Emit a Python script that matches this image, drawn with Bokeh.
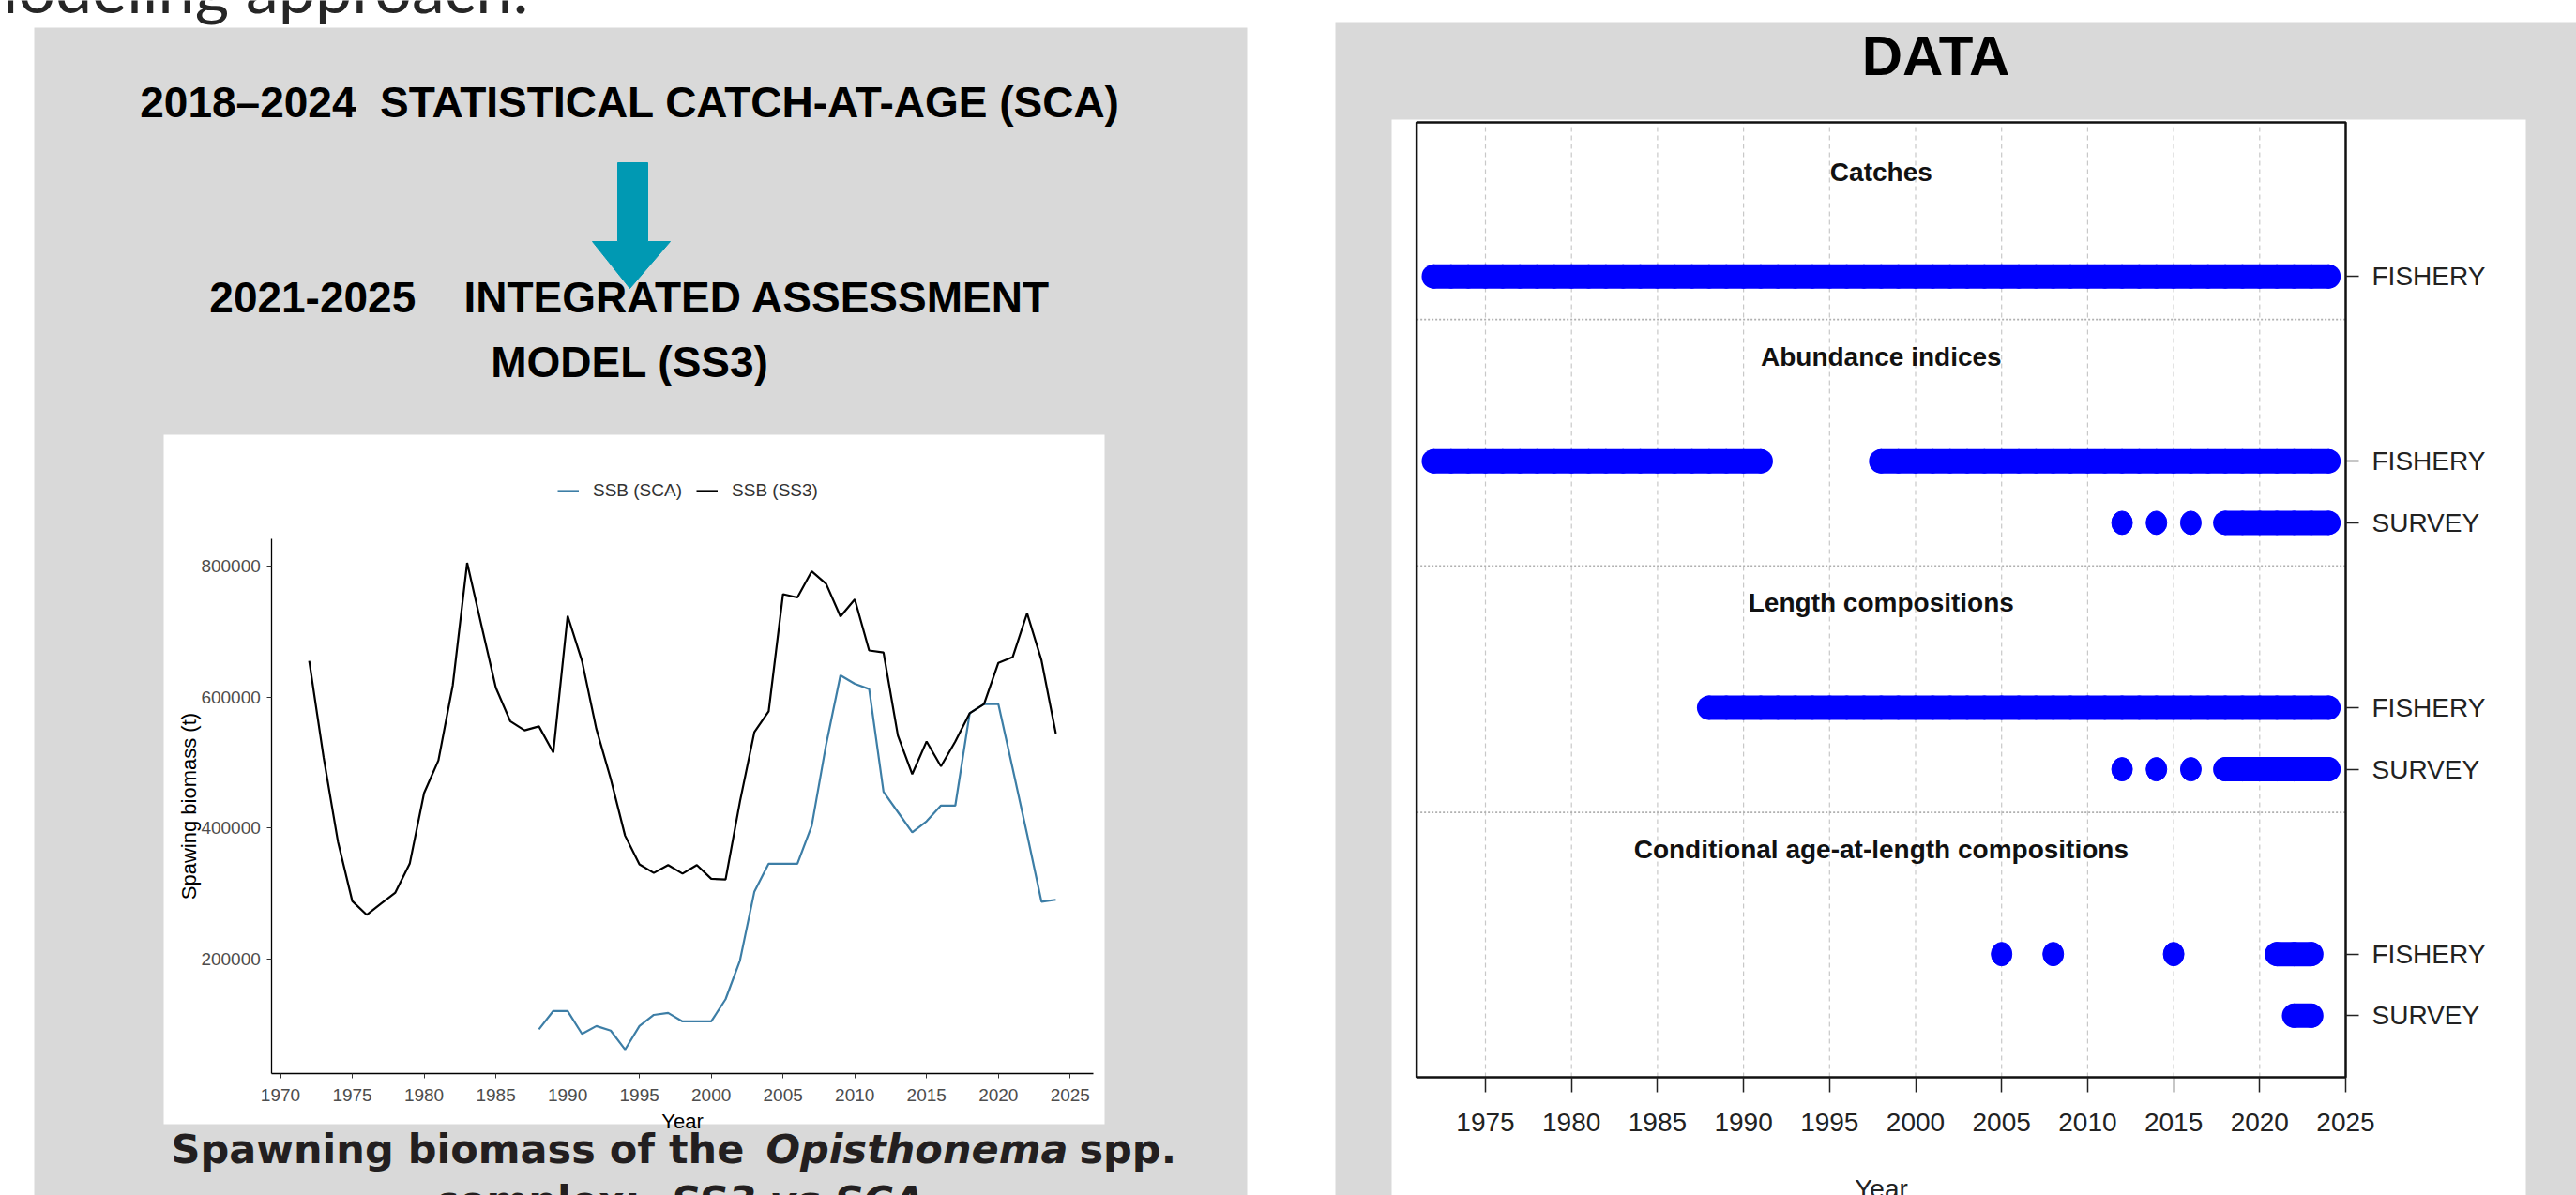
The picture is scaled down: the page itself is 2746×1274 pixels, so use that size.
from bokeh.plotting import figure
from bokeh.models import Range1d, LinearAxis, FixedTicker, Legend, LegendItem
from bokeh.core.properties import value
from bokeh.embed import file_html
from bokeh.resources import INLINE

# ------------------------------------------------------------------ data
# Spawning biomass (t)
ssb_ss3_years = list(range(1972, 2025))
ssb_ss3 = [655000, 508000, 379000, 288000, 267000, 284000, 301000, 345000, 453000, 503000,
           618000, 805000, 709000, 614000, 563000, 549000, 555000, 515000, 724000, 655000,
           551000, 475000, 388000, 344000, 331000, 343000, 330000, 343000, 322000, 321000,
           440000, 546000, 578000, 757000, 752000, 792000, 773000, 723000, 749000, 671000,
           668000, 541000, 482000, 532000, 494000, 532000, 575000, 589000, 652000, 661000,
           728000, 656000, 544000]
ssb_sca_years = list(range(1988, 2025))
ssb_sca = [92000, 120000, 120000, 85000, 97000, 90000, 61000, 97000, 114000, 117000,
           104000, 104000, 104000, 138000, 197000, 302000, 345000, 345000, 345000, 403000,
           527000, 633000, 620000, 612000, 455000, 424000, 393000, 410000, 434000, 434000,
           575000, 589000, 589000, 490000, 390000, 287000, 290000]
series_names = ["SSB (SCA)", "SSB (SS3)"]
ssb_xticks = [1970, 1975, 1980, 1985, 1990, 1995, 2000, 2005, 2010, 2015, 2020, 2025]
ssb_yticks = [200000, 400000, 600000, 800000]
ssb_ytick_labels = ["200000", "400000", "600000", "800000"]

# Data availability chart (right)
data_groups = ["Catches", "Abundance indices", "Length compositions",
               "Conditional age-at-length compositions"]
catch_fishery_years = list(range(1972, 2025))
abund_fishery_years = list(range(1972, 1992)) + list(range(1998, 2025))
abund_survey_years = [2012, 2014, 2016] + list(range(2018, 2025))
length_fishery_years = list(range(1988, 2025))
length_survey_years = [2012, 2014, 2016] + list(range(2018, 2025))
caal_fishery_years = [2005, 2008, 2015, 2021, 2022, 2023]
caal_survey_years = [2022, 2023]
fleet_labels = ["FISHERY", "FISHERY", "SURVEY", "FISHERY", "SURVEY", "FISHERY", "SURVEY"]
data_xticks = [1975, 1980, 1985, 1990, 1995, 2000, 2005, 2010, 2015, 2020, 2025]

# ------------------------------------------------------------------ layout constants
W, H = 2746, 1274
OX, OY = 0, 0
GRAY = "#d9d9d9"
BLUE = "#0000ff"
fleet_rows = [13, 10, 9, 6, 5, 2, 1]
group_title_rows = [14.7, 11.7, 7.7, 3.7]
separator_rows = [12.3, 8.3, 4.3]
DATA_XLIM = (1971, 2025)
DATA_YLIM = (0, 15.5)


def fit(d0, s0, d1, s1, s_start, s_end):
    k = (d1 - d0) / (s1 - s0)
    return Range1d(start=d0 + (s_start - s0) * k, end=d0 + (s_end - s0) * k)


def runs(years):
    out = []
    start = prev = years[0]
    for y in years[1:]:
        if y == prev + 1:
            prev = y
        else:
            out.append((start, prev))
            start = prev = y
    out.append((start, prev))
    return out


p = figure(width=W, height=H, x_range=Range1d(OX, OX + W), y_range=Range1d(OY + H, OY),
           x_axis_type=None, y_axis_type=None, output_backend="svg",
           toolbar_location=None, min_border=0)
p.outline_line_color = None
p.background_fill_color = "white"
p.border_fill_color = "white"
p.extra_x_ranges = {"sx": fit(1970, 298.5, 2025, 1140.3, OX, OX + W),
                    "dx": fit(1975, 1583, 2025, 2500, OX, OX + W)}
p.extra_y_ranges = {"sy": fit(0, 1161, 800000, 603, OY + H, OY),
                    "dy": fit(0, 1148, 15.5, 130, OY + H, OY)}

# ------------------------------------------------------------------ slide background
p.quad(left=[36, 1423], right=[1329, 2760], top=[29, 23], bottom=[1300, 1300],
       fill_color=GRAY, line_color=None)
p.quad(left=[174, 1483], right=[1177, 2692], top=[463, 127], bottom=[1198, 1300],
       fill_color="white", line_color=None)

p.text(x=[-45], y=[-14], text=["Modeling approach:"], text_font=value("Lato"),
       text_font_size="70px", text_color="#262626", text_baseline="middle")

# arrow
p.patch(x=[658, 690, 690, 714, 671, 631, 658], y=[173, 173, 257, 257, 307, 257, 257],
        fill_color="#0099b3", line_color="#0099b3")

NB = "\u00a0"
p.text(x=[671, 671, 671], y=[108, 316, 385],
       text=["2018\u20132024" + NB * 2 + "STATISTICAL CATCH-AT-AGE (SCA)",
             "2021-2025" + NB * 4 + "INTEGRATED ASSESSMENT",
             "MODEL (SS3)"],
       text_font=value("Liberation Sans"), text_font_style="bold", text_font_size="46px",
       text_color="black", text_align="center", text_baseline="middle")

p.text(x=[2063], y=[59], text=["DATA"], text_font=value("Liberation Sans"), text_font_style="bold",
       text_font_size="60px", text_color="black", text_align="center", text_baseline="middle")

cap_font = value("DejaVu Sans")
p.text(x=[182, 1150, 463], y=[1224, 1224, 1279], text=["Spawning biomass of the", "spp.", "complex:"],
       text_font=cap_font, text_font_style="bold", text_font_size="43px", text_color="#231f20",
       text_align="left", text_baseline="middle")
p.text(x=[816, 715], y=[1224, 1279], text=["Opisthonema", "SS3 vs SCA"],
       text_font=cap_font, text_font_style="bold italic", text_font_size="43px", text_color="#231f20",
       text_align="left", text_baseline="middle")

# ------------------------------------------------------------------ left chart: SSB
all_years = ssb_ss3_years + ssb_sca_years
all_vals = ssb_ss3 + ssb_sca
x_lo = min(all_years) - 0.05 * (max(all_years) - min(all_years))
x_hi = max(all_years) + 0.05 * (max(all_years) - min(all_years))
y_lo = min(all_vals) - 0.05 * (max(all_vals) - min(all_vals))
y_hi = max(all_vals) + 0.05 * (max(all_vals) - min(all_vals))

r_sca = p.line(ssb_sca_years, ssb_sca, x_range_name="sx", y_range_name="sy",
               line_color="#3d7ea6", line_width=2.2)
r_ss3 = p.line(ssb_ss3_years, ssb_ss3, x_range_name="sx", y_range_name="sy",
               line_color="black", line_width=2.2)

legend = Legend(items=[LegendItem(label=series_names[0], renderers=[r_sca]),
                       LegendItem(label=series_names[1], renderers=[r_ss3])],
                orientation="horizontal", location=(594, (OY + H) - 534), glyph_width=23,
                glyph_height=20, label_standoff=15, spacing=15, padding=0, margin=0,
                border_line_alpha=0, background_fill_alpha=0,
                label_text_font_size="19px", label_text_color="#333333",
                label_text_font="Liberation Sans")
p.add_layout(legend)

axis_style = dict(axis_line_color="black", axis_line_width=1.3, major_tick_line_color="#333333",
                  major_tick_out=5, major_tick_in=0, minor_tick_line_color=None,
                  major_label_text_font_size="19px", major_label_text_color="#4d4d4d",
                  major_label_text_font="Liberation Sans", axis_label_text_font="Liberation Sans",
                  axis_label_text_font_size="22px", axis_label_text_font_style="normal",
                  axis_label_text_color="black")
ax_sx = LinearAxis(x_range_name="sx", y_range_name="sy", fixed_location=y_lo, bounds=(x_lo, x_hi),
                   ticker=FixedTicker(ticks=ssb_xticks), axis_label="Year",
                   major_label_standoff=11, axis_label_standoff=6, **axis_style)
p.add_layout(ax_sx, "below")
ax_sy = LinearAxis(x_range_name="sx", y_range_name="sy", fixed_location=x_lo, bounds=(y_lo, y_hi),
                   ticker=FixedTicker(ticks=ssb_yticks),
                   major_label_overrides=dict(zip(ssb_yticks, ssb_ytick_labels)),
                   axis_label="Spawing biomass (t)",
                   major_label_standoff=7, axis_label_standoff=-3, **axis_style)
p.add_layout(ax_sy, "left")

# ------------------------------------------------------------------ right chart: data availability
grid_years = data_xticks[:-1]
p.segment(x0=grid_years, y0=[DATA_YLIM[0]] * len(grid_years), x1=grid_years,
          y1=[DATA_YLIM[1]] * len(grid_years), x_range_name="dx", y_range_name="dy",
          line_color="#c8c8c8", line_dash="5 4", line_width=1.2)
p.segment(x0=[DATA_XLIM[0]] * 3, x1=[DATA_XLIM[1]] * 3, y0=separator_rows, y1=separator_rows,
          x_range_name="dx", y_range_name="dy", line_color="#b0b0b0", line_dash="2 2",
          line_width=1.6)

series = [catch_fishery_years, abund_fishery_years, abund_survey_years, length_fishery_years,
          length_survey_years, caal_fishery_years, caal_survey_years]
for yrs, row in zip(series, fleet_rows):
    rr = [r for r in runs(yrs) if r[1] > r[0]]
    if rr:
        p.segment(x0=[r[0] for r in rr], x1=[r[1] for r in rr], y0=[row] * len(rr),
                  y1=[row] * len(rr), line_color=BLUE, line_width=26, line_cap="round",
                  x_range_name="dx", y_range_name="dy")
    p.ellipse(x=yrs, y=[row] * len(yrs), width=22, height=25, width_units="screen",
              height_units="screen", fill_color=BLUE, line_color=BLUE,
              x_range_name="dx", y_range_name="dy")

p.quad(left=[DATA_XLIM[0]], right=[DATA_XLIM[1]], bottom=[DATA_YLIM[0]], top=[DATA_YLIM[1]],
       fill_color=None, line_color="#111111", line_width=2.5, x_range_name="dx", y_range_name="dy")

p.text(x=[(DATA_XLIM[0] + DATA_XLIM[1]) / 2] * 4, y=group_title_rows, text=data_groups,
       x_range_name="dx", y_range_name="dy", text_font=value("Liberation Sans"),
       text_font_style="bold", text_font_size="28px", text_color="#111111",
       text_align="center", text_baseline="middle")

ax_dx = LinearAxis(x_range_name="dx", y_range_name="dy", fixed_location=DATA_YLIM[0],
                   bounds=DATA_XLIM, ticker=FixedTicker(ticks=data_xticks), axis_label="Year",
                   axis_line_color=None, major_tick_out=16, major_tick_in=0,
                   major_tick_line_width=1.5, major_tick_line_color="#222222",
                   minor_tick_line_color=None, major_label_text_font="Liberation Sans",
                   major_label_text_font_size="28px", major_label_text_color="#222222",
                   major_label_standoff=22, axis_label_text_font="Liberation Sans",
                   axis_label_text_font_size="28px", axis_label_text_font_style="normal",
                   axis_label_text_color="#222222", axis_label_standoff=43)
p.add_layout(ax_dx, "below")
ax_dy = LinearAxis(x_range_name="dx", y_range_name="dy", fixed_location=DATA_XLIM[1],
                   ticker=FixedTicker(ticks=fleet_rows),
                   major_label_overrides=dict(zip(fleet_rows, fleet_labels)),
                   axis_line_color=None, major_tick_out=14, major_tick_in=0,
                   major_tick_line_width=1.5, major_tick_line_color="#222222",
                   minor_tick_line_color=None, major_label_text_font="Liberation Sans",
                   major_label_text_font_size="28px", major_label_text_color="#222222",
                   major_label_standoff=14)
p.add_layout(ax_dy, "right")

open("out.html", "w").write(file_html(p, INLINE))
